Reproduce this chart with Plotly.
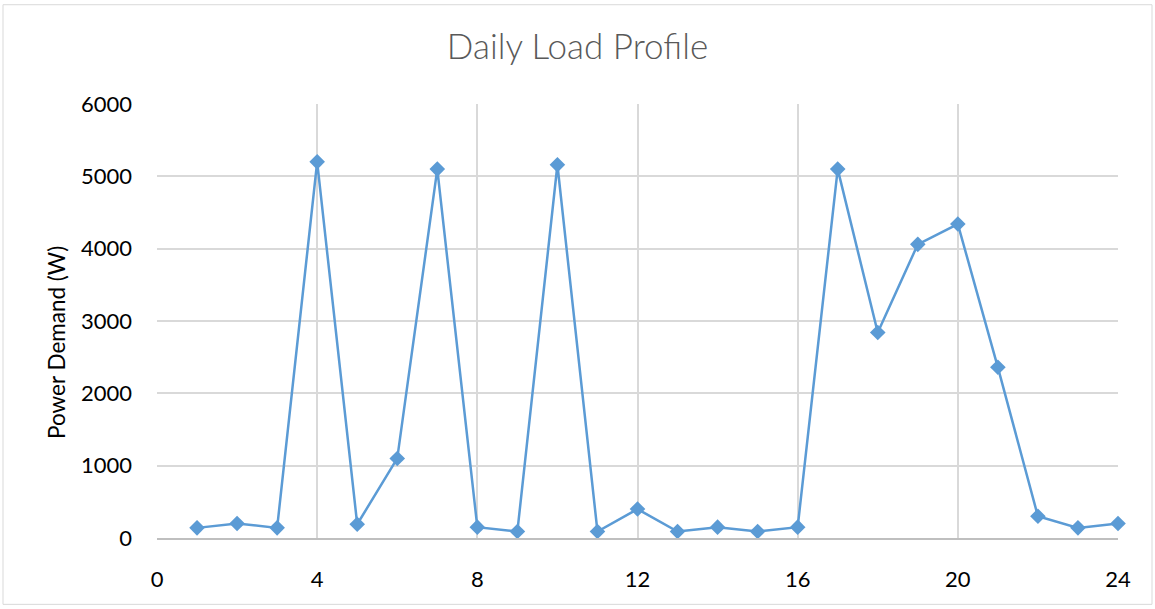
import plotly.graph_objects as go

hours = list(range(1, 25))
power_w = [140, 200, 140, 5200, 190, 1100, 5100, 150, 90, 5160, 90, 400,
           90, 150, 90, 150, 5100, 2840, 4060, 4340, 2360, 300, 140, 200]
x_ticks = [0, 4, 8, 12, 16, 20, 24]
y_ticks = [0, 1000, 2000, 3000, 4000, 5000, 6000]

W, H = 1155, 609
L, R, T, B = 157, 37, 103.5, 70.5
pw, ph = W - L - R, H - T - B

fig = go.Figure()
fig.add_trace(go.Scatter(
    x=hours, y=power_w, mode="lines+markers",
    line=dict(color="#5B9BD5", width=2.5),
    marker=dict(symbol="diamond", size=12, color="#5B9BD5"),
    showlegend=False, cliponaxis=False,
))

font_fam = "Lato, Liberation Sans, sans-serif"
fig.update_layout(
    width=W, height=H,
    margin=dict(l=L, r=R, t=T, b=B, pad=0),
    paper_bgcolor="white", plot_bgcolor="white",
    title=dict(text="Daily Load Profile", x=0.5, xanchor="center",
               y=1 - 47 / H, yanchor="middle",
               font=dict(family=font_fam, size=35, color="#595959", weight=300)),
    xaxis=dict(range=[0, 24], tickvals=x_ticks, showgrid=True,
               gridcolor="#D9D9D9", gridwidth=1.5, zeroline=False,
               showline=True, linecolor="#BFBFBF", linewidth=1.5,
               ticks="", ticklabelstandoff=21,
               tickfont=dict(family=font_fam, size=22, color="#000000")),
    yaxis=dict(range=[0, 6000], tickvals=y_ticks, showgrid=True,
               gridcolor="#D9D9D9", gridwidth=1.5, zeroline=False,
               showline=False, ticks="", ticklabelstandoff=24,
               tickfont=dict(family=font_fam, size=22, color="#000000")),
    annotations=[dict(text="Power Demand (W)", textangle=-90, showarrow=False,
                      xref="paper", yref="paper",
                      x=(57 - L) / pw, y=1 - (343 - T) / ph,
                      xanchor="center", yanchor="middle",
                      font=dict(family=font_fam, size=22.5, color="#000000"))],
    shapes=[dict(type="rect", xref="paper", yref="paper",
                 x0=(3 - L) / pw, x1=(1152 - L) / pw,
                 y0=-(605 - (H - B)) / ph, y1=1 + (T - 4) / ph,
                 line=dict(color="#D9D9D9", width=1), layer="below")],
)
fig.write_html("out.html", config={"displayModeBar": False},
               post_script="document.body.style.margin='0';")
